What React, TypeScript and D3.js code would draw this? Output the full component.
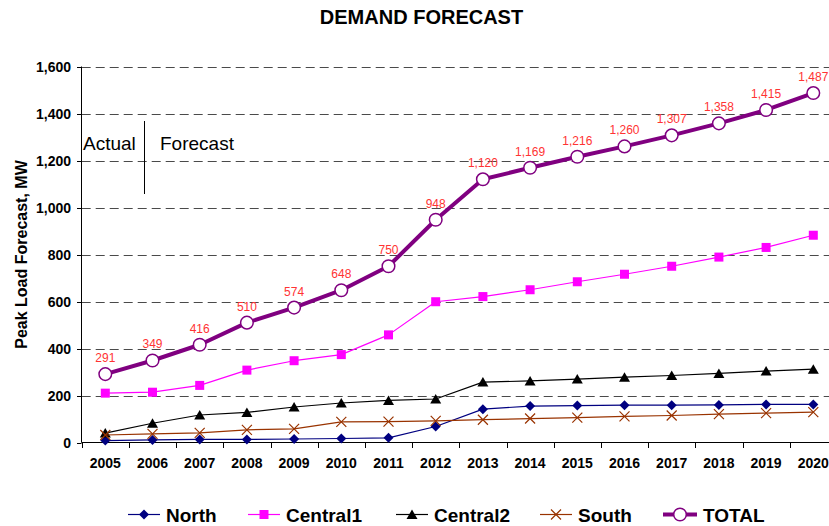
import React from 'react';
import * as d3 from 'd3';

// Forecast years on the category axis
const YEARS = ['2005', '2006', '2007', '2008', '2009', '2010', '2011', '2012', '2013', '2014', '2015', '2016', '2017', '2018', '2019', '2020'];

// Peak load by region, MW
const NORTH = [8, 11, 13, 13, 15, 17, 20, 68, 142, 155, 157, 159, 159, 160, 162, 162];
const CENTRAL1 = [210, 214, 243, 308, 348, 374, 458, 599, 621, 650, 684, 716, 750, 789, 830, 882];
const CENTRAL2 = [40, 82, 117, 128, 151, 168, 179, 185, 257, 262, 270, 278, 285, 294, 304, 312];
const SOUTH = [32, 37, 41, 54, 58, 88, 89, 92, 97, 102, 106, 111, 115, 121, 125, 129];
const TOTAL = [291, 349, 416, 510, 574, 648, 750, 948, 1120, 1169, 1216, 1260, 1307, 1358, 1415, 1487];

// Value axis ticks
const Y_TICKS = [0, 200, 400, 600, 800, 1000, 1200, 1400, 1600];

const SERIES_NAMES = ['North', 'Central1', 'Central2', 'South', 'TOTAL'];

const W = 829;
const H = 526;
const FONT = '"Liberation Sans", Arial, Helvetica, sans-serif';

const PLOT_LEFT = 81.7;
const PLOT_TOP = 66.5;
const PLOT_BOTTOM = 442.5;
const BAND = 47.2;

type Marker = 'diamond' | 'square' | 'triangle' | 'cross' | 'circle';

interface SeriesStyle {
  name: string;
  values: number[];
  color: string;
  width: number;
  marker: Marker;
}

const styles: SeriesStyle[] = [
  { name: SERIES_NAMES[0], values: NORTH, color: '#000080', width: 1.2, marker: 'diamond' },
  { name: SERIES_NAMES[1], values: CENTRAL1, color: '#FF00FF', width: 1.2, marker: 'square' },
  { name: SERIES_NAMES[2], values: CENTRAL2, color: '#000000', width: 1.2, marker: 'triangle' },
  { name: SERIES_NAMES[3], values: SOUTH, color: '#993300', width: 1.2, marker: 'cross' },
  { name: SERIES_NAMES[4], values: TOTAL, color: '#800080', width: 4, marker: 'circle' },
];

// Legend item start positions (line start) along the bottom row
const LEGEND_X = [128, 248, 396, 540, 663];

function MarkerShape({ kind, x, y, color }: { kind: Marker; x: number; y: number; color: string }) {
  switch (kind) {
    case 'diamond':
      return <path d={`M${x},${y - 5}L${x + 5},${y}L${x},${y + 5}L${x - 5},${y}Z`} fill={color} />;
    case 'square':
      return <rect x={x - 4.5} y={y - 4.5} width={9} height={9} fill={color} />;
    case 'triangle':
      return <path d={`M${x},${y - 5}L${x + 5.5},${y + 4.5}L${x - 5.5},${y + 4.5}Z`} fill={color} />;
    case 'cross':
      return (
        <path
          d={`M${x - 5},${y - 5}L${x + 5},${y + 5}M${x + 5},${y - 5}L${x - 5},${y + 5}`}
          stroke={color}
          strokeWidth={1.2}
          fill="none"
        />
      );
    case 'circle':
      return <circle cx={x} cy={y} r={6.3} fill="#fff" stroke={color} strokeWidth={1.5} />;
  }
}

export default function App() {
  const x = d3
    .scaleBand<string>()
    .domain(YEARS)
    .range([PLOT_LEFT, PLOT_LEFT + BAND * YEARS.length])
    .paddingInner(0)
    .paddingOuter(0);
  const cx = (d: string) => (x(d) as number) + x.bandwidth() / 2;
  const y = d3.scaleLinear().domain([0, 1600]).range([PLOT_BOTTOM, PLOT_TOP]);
  const fmt = d3.format(',');

  const line = (vals: number[]) =>
    d3
      .line<number>()
      .x((_, i) => cx(YEARS[i]))
      .y((v) => y(v))(vals) as string;

  const boundaries = YEARS.map((d) => x(d) as number).concat([PLOT_LEFT + BAND * YEARS.length]);

  return (
    <svg
      width={W}
      height={H}
      viewBox={`0 0 ${W} ${H}`}
      style={{ position: 'absolute', left: 0, top: 0, background: '#fff' }}
      fontFamily={FONT}
    >
      <rect x={0} y={0} width={W} height={H} fill="#fff" />

      {/* Title */}
      <text x={421.5} y={24} textAnchor="middle" fontSize={20} fontWeight="bold" fill="#000">
        DEMAND FORECAST
      </text>

      {/* Gridlines */}
      {Y_TICKS.filter((t) => t > 0).map((t) => (
        <line
          key={t}
          x1={PLOT_LEFT}
          x2={W}
          y1={Math.round(y(t)) + 0.5}
          y2={Math.round(y(t)) + 0.5}
          stroke="#4a4a4a"
          strokeWidth={1}
          strokeDasharray="9,5"
        />
      ))}

      {/* Y axis */}
      <line x1={81.5} x2={81.5} y1={PLOT_TOP} y2={PLOT_BOTTOM} stroke="#000" strokeWidth={1} />
      {Y_TICKS.map((t) => (
        <g key={t}>
          <line x1={77} x2={81.5} y1={Math.round(y(t)) + 0.5} y2={Math.round(y(t)) + 0.5} stroke="#000" />
          <text x={71} y={y(t) + 5} textAnchor="end" fontSize={14} fontWeight="bold" fill="#000">
            {fmt(t)}
          </text>
        </g>
      ))}

      {/* X axis */}
      <line x1={81.5} x2={W} y1={442.5} y2={442.5} stroke="#000" strokeWidth={1} />
      {boundaries.map((b, i) => (
        <line key={i} x1={Math.round(b) + 0.5} x2={Math.round(b) + 0.5} y1={442.5} y2={448} stroke="#000" />
      ))}
      {YEARS.map((d) => (
        <text key={d} x={cx(d)} y={468} textAnchor="middle" fontSize={14} fontWeight="bold" fill="#000">
          {d}
        </text>
      ))}

      {/* Y axis title */}
      <text
        transform={`translate(26.5, ${(PLOT_TOP + PLOT_BOTTOM) / 2}) rotate(-90)`}
        textAnchor="middle"
        fontSize={16}
        fontWeight="bold"
        fill="#000"
      >
        Peak Load Forecast, MW
      </text>

      {/* Actual / Forecast divider */}
      <text x={83} y={150} fontSize={19} fill="#000">
        Actual
      </text>
      <line x1={144.5} x2={144.5} y1={121} y2={194} stroke="#000" strokeWidth={1} />
      <text x={160} y={150} fontSize={19} fill="#000">
        Forecast
      </text>

      {/* Series lines and markers */}
      {styles.map((s) => (
        <g key={s.name}>
          <path d={line(s.values)} fill="none" stroke={s.color} strokeWidth={s.width} strokeLinejoin="round" />
          {s.values.map((v, i) => (
            <MarkerShape key={i} kind={s.marker} x={cx(YEARS[i])} y={y(v)} color={s.color} />
          ))}
        </g>
      ))}

      {/* TOTAL value labels */}
      {TOTAL.map((v, i) => (
        <text key={i} x={cx(YEARS[i])} y={y(v) - 12} textAnchor="middle" fontSize={12} fill="#FF3333">
          {fmt(v)}
        </text>
      ))}

      {/* Legend */}
      {styles.map((s, i) => {
        const lx = LEGEND_X[i];
        const len = s.marker === 'circle' ? 34 : 32;
        return (
          <g key={s.name}>
            <line x1={lx} x2={lx + len} y1={514.5} y2={514.5} stroke={s.color} strokeWidth={s.width} />
            <MarkerShape kind={s.marker} x={lx + len / 2} y={514.5} color={s.color} />
            <text x={lx + len + 6} y={521.5} fontSize={19} fontWeight="bold" fill="#000">
              {s.name}
            </text>
          </g>
        );
      })}
    </svg>
  );
}
